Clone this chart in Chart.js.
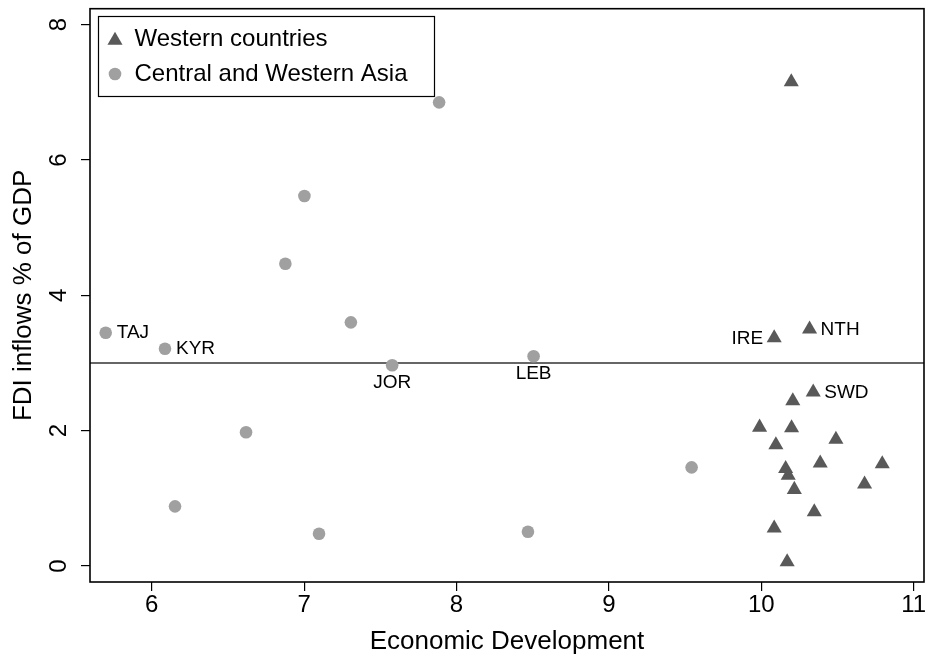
<!DOCTYPE html>
<html>
<head>
<meta charset="utf-8">
<script src="https://cdn.jsdelivr.net/npm/chart.js@4/dist/chart.umd.min.js"></script>
<style>
  html, body { margin: 0; padding: 0; background: #ffffff; }
  #wrap { width: 934px; height: 661px; position: relative; }
</style>
</head>
<body>
<div id="wrap"><canvas id="c" width="934" height="661"></canvas></div>
<script>
// ---------------- DATA ----------------
const seriesNames = ['Western countries', 'Central and Western Asia'];

const westX = [10.197, 10.085, 10.317, 10.341, 10.207, 9.989, 10.199, 10.096, 10.49,
               10.16, 10.177, 10.387, 10.794, 10.217, 10.678, 10.348, 10.085, 10.17];
const westY = [7.155, 3.37, 3.50, 2.57, 2.44, 2.05, 2.04, 1.79, 1.87,
               1.44, 1.34, 1.52, 1.51, 1.13, 1.21, 0.80, 0.56, 0.06];
const westLabels = ['', 'IRE', 'NTH', 'SWD', '', '', '', '', '', '', '', '', '', '', '', '', '', ''];

const asiaX = [5.698, 6.087, 6.153, 6.619, 6.877, 7.002, 7.098, 7.307, 7.578, 7.886, 8.506, 8.469, 9.543];
const asiaY = [3.448, 3.211, 0.882, 1.976, 4.467, 5.468, 0.477, 3.601, 2.966, 6.852, 3.099, 0.507, 1.458];
const asiaLabels = ['TAJ', 'KYR', '', '', '', '', '', '', 'JOR', '', 'LEB', '', ''];

const refLineY = 3;
const xTicks = [6, 7, 8, 9, 10, 11];
const yTicks = [0, 2, 4, 6, 8];
const xRange = [5.595, 11.068];
const yRange = [-0.236, 8.236];

const xTitle = 'Economic Development';
const yTitle = 'FDI inflows % of GDP';

// ---------------- STYLE ----------------
const FONT = "'Liberation Sans', Arial, Helvetica, sans-serif";
const triColor = '#595959';
const circColor = '#a0a0a0';
const labelPlacement = { TAJ: 'right', KYR: 'right', JOR: 'below', LEB: 'below', IRE: 'left', NTH: 'right', SWD: 'right' };

const westPts = westX.map((x, i) => ({ x: x, y: westY[i], lab: westLabels[i] }));
const asiaPts = asiaX.map((x, i) => ({ x: x, y: asiaY[i], lab: asiaLabels[i] }));

const boxPlugin = {
  id: 'boxAndExtras',
  afterDatasetsDraw(chart) {
    const ctx = chart.ctx;
    const a = chart.chartArea;
    // marker labels
    ctx.save();
    ctx.font = '19px ' + FONT;
    ctx.fillStyle = '#000';
    ctx.textBaseline = 'middle';
    [0, 1].forEach(di => {
      const meta = chart.getDatasetMeta(di);
      const pts = chart.data.datasets[di].data;
      meta.data.forEach((el, i) => {
        const lab = pts[i].lab;
        if (!lab) return;
        const pos = labelPlacement[lab] || 'right';
        if (pos === 'right') { ctx.textAlign = 'left'; ctx.fillText(lab, el.x + 11, el.y + 0.5); }
        else if (pos === 'left') { ctx.textAlign = 'right'; ctx.fillText(lab, el.x - 11, el.y + 0.5); }
        else { ctx.textAlign = 'center'; ctx.fillText(lab, el.x, el.y + 17.5); }
      });
    });
    ctx.restore();
  },
  afterDraw(chart) {
    const ctx = chart.ctx;
    const a = chart.chartArea;
    ctx.save();
    // plot frame
    ctx.strokeStyle = '#000';
    ctx.lineWidth = 1.6;
    ctx.strokeRect(a.left, a.top, a.right - a.left, a.bottom - a.top);
    // legend
    const lx = 98.5, ly = 16.5, lw = 336, lh = 80;
    ctx.fillStyle = '#fff';
    ctx.fillRect(lx, ly, lw, lh);
    ctx.lineWidth = 1.2;
    ctx.strokeRect(lx, ly, lw, lh);
    // triangle marker
    const r = 8.7, tx = 115, ty = 40.5;
    ctx.beginPath();
    for (let k = 0; k < 3; k++) {
      const ang = k * 2 * Math.PI / 3;
      const px = tx + Math.sin(ang) * r, py = ty - Math.cos(ang) * r;
      if (k === 0) ctx.moveTo(px, py); else ctx.lineTo(px, py);
    }
    ctx.closePath();
    ctx.fillStyle = triColor;
    ctx.fill();
    // circle marker
    ctx.beginPath();
    ctx.arc(115, 74, 6.3, 0, Math.PI * 2);
    ctx.fillStyle = circColor;
    ctx.fill();
    ctx.fillStyle = '#000';
    ctx.font = '24px ' + FONT;
    ctx.textAlign = 'left';
    ctx.textBaseline = 'middle';
    ctx.fillText(seriesNames[0], 134.5, 39.5);
    ctx.fillText(seriesNames[1], 134.5, 74.5);
    ctx.restore();
  }
};

new Chart(document.getElementById('c'), {
  type: 'scatter',
  data: {
    datasets: [
      {
        label: seriesNames[0],
        data: westPts,
        pointStyle: 'triangle',
        pointRadius: 8.7,
        pointHoverRadius: 8.7,
        backgroundColor: triColor,
        borderColor: triColor,
        borderWidth: 0
      },
      {
        label: seriesNames[1],
        data: asiaPts,
        pointStyle: 'circle',
        pointRadius: 6.3,
        pointHoverRadius: 6.3,
        backgroundColor: circColor,
        borderColor: circColor,
        borderWidth: 0
      },
      {
        type: 'line',
        label: 'ref',
        data: [{ x: xRange[0], y: refLineY }, { x: xRange[1], y: refLineY }],
        showLine: true,
        borderColor: '#333333',
        borderWidth: 1.6,
        pointRadius: 0,
        fill: false
      }
    ]
  },
  options: {
    responsive: false,
    animation: false,
    devicePixelRatio: 1,
    layout: { padding: { top: 8, right: 10, bottom: 0, left: 0 } },
    plugins: { legend: { display: false }, tooltip: { enabled: false } },
    scales: {
      x: {
        type: 'linear',
        min: xRange[0],
        max: xRange[1],
        afterBuildTicks: s => { s.ticks = xTicks.map(v => ({ value: v })); },
        afterFit: s => { s.height = 79; s.paddingLeft = 0; s.paddingRight = 0; },
        ticks: {
          color: '#000',
          padding: 0,
          maxRotation: 0,
          font: { family: FONT, size: 24 },
          callback: v => String(v)
        },
        grid: { display: true, drawOnChartArea: false, drawTicks: true, tickLength: 9, color: '#000', lineWidth: 1.2 },
        border: { display: false },
        title: {
          display: true,
          text: xTitle,
          color: '#000',
          font: { family: FONT, size: 26 },
          padding: { top: 0, bottom: 4 }
        }
      },
      y: {
        type: 'linear',
        min: yRange[0],
        max: yRange[1],
        afterBuildTicks: s => { s.ticks = yTicks.map(v => ({ value: v })); },
        afterFit: s => { s.width = 90; s.paddingTop = 0; s.paddingBottom = 0; },
        ticks: {
          color: '#000',
          padding: 15,
          minRotation: 90,
          maxRotation: 90,
          crossAlign: 'center',
          font: { family: FONT, size: 24 },
          callback: v => String(v)
        },
        grid: { display: true, drawOnChartArea: false, drawTicks: true, tickLength: 9, color: '#000', lineWidth: 1.2 },
        border: { display: false },
        title: {
          display: true,
          text: yTitle,
          color: '#000',
          font: { family: FONT, size: 26 },
          padding: { top: 8, bottom: 0 }
        }
      }
    }
  },
  plugins: [boxPlugin]
});
</script>
</body>
</html>
